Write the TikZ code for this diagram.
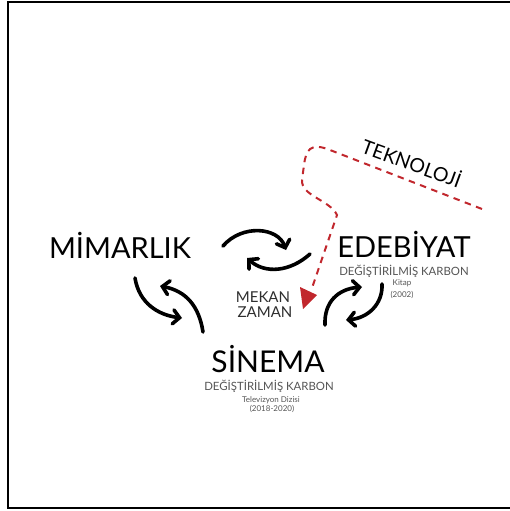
\documentclass[tikz,border=0pt]{standalone}
\usepackage{fontspec}
\setmainfont{Lato}
\usetikzlibrary{arrows.meta}
\definecolor{redline}{HTML}{C1272D}
\definecolor{subgray}{HTML}{555555}
\definecolor{midgray}{HTML}{2E2E2E}
\tikzset{
  title/.style={anchor=base, inner sep=0pt, font=\fontsize{29}{29}\selectfont, text=black},
  sub/.style={anchor=base, inner sep=0pt, font=\fontsize{11.4}{11.4}\selectfont, text=subgray},
  tiny/.style={anchor=base, inner sep=0pt, font=\fontsize{8}{8}\selectfont, text=subgray},
  midtext/.style={anchor=base, inner sep=0pt, font=\fontsize{15}{15}\selectfont, text=midgray},
  cyc/.style={line width=3.6pt, line cap=round, -{Straight Barb[length=6.5pt,width=14pt,line cap=round]}},
  tech/.style={redline, line width=2pt, dash pattern=on 6.5pt off 5.5pt}
}
\begin{document}
\begin{tikzpicture}[x=1pt,y=-1pt]
\useasboundingbox (0,0) rectangle (510,511);
\draw[line width=2pt] (515,2) -- (8,2) -- (8,508) -- (515,508);

% titles
\node[title] (mim) at (120,258) {MİMARLIK};
\node[title] (ede) at (404,257) {EDEBİYAT};
\node[sub] (edesub) at (404,275) {DEĞİŞTİRİLMİŞ KARBON};
\node[tiny] (kitap) at (402,285) {Kitap};
\node[tiny] (y2002) at (402,297) {(2002)};
\node[title, font=\fontsize{30}{30}\selectfont] (sin) at (268,372) {SİNEMA};
\node[sub] (sinsub) at (269,390) {DEĞİŞTİRİLMİŞ KARBON};
\node[tiny] (tv) at (271,402) {Televizyon Dizisi};
\node[tiny] (y2018) at (272,411) {(2018-2020)};
\node[midtext] (mekan) at (263,302) {MEKAN};
\node[midtext] (zaman) at (265,317) {ZAMAN};

% technology dashed path
\coordinate (t0) at (482,209);
\coordinate (t1) at (330,150);
\coordinate (t2) at (304,165);
\coordinate (t3) at (302,180);
\coordinate (t4) at (337,215);
\coordinate (t5) at (312,288);
\draw[tech] (t0) -- (t1) .. controls (310,142) and (306,150) .. (t2) -- (t3)
  .. controls (301,196) and (330,200) .. (t4) -- (t5);
\fill[redline] (300,287) -- (317,295) -- (303,309) -- cycle;
\node[anchor=center, inner sep=0pt, rotate=-20, font=\fontsize{19.5}{19.5}\selectfont] (tek) at (412,162) {TEKNOLOJİ};

% cycle arrows
\coordinate (a0) at (135,278); \coordinate (a1) at (182,318);
\coordinate (b0) at (203,332); \coordinate (b1) at (160,286);
\coordinate (c0) at (223,246); \coordinate (c1) at (286,250);
\coordinate (d0) at (310,254); \coordinate (d1) at (247,258);
\coordinate (e0) at (325,325); \coordinate (e1) at (362,287);
\coordinate (f0) at (382,284); \coordinate (f1) at (346,320);
\draw[cyc] (a0) .. controls (139,303) and (158,315) .. (a1);
\draw[cyc] (b0) .. controls (199,306) and (186,291) .. (b1);
\draw[cyc] (c0) .. controls (242,224) and (278,227) .. (c1);
\draw[cyc] (d0) .. controls (290,272) and (265,274) .. (d1);
\draw[cyc] (e0) .. controls (324,302) and (338,289) .. (e1);
\draw[cyc] (f0) .. controls (383,304) and (368,318) .. (f1);
\end{tikzpicture}
\end{document}
